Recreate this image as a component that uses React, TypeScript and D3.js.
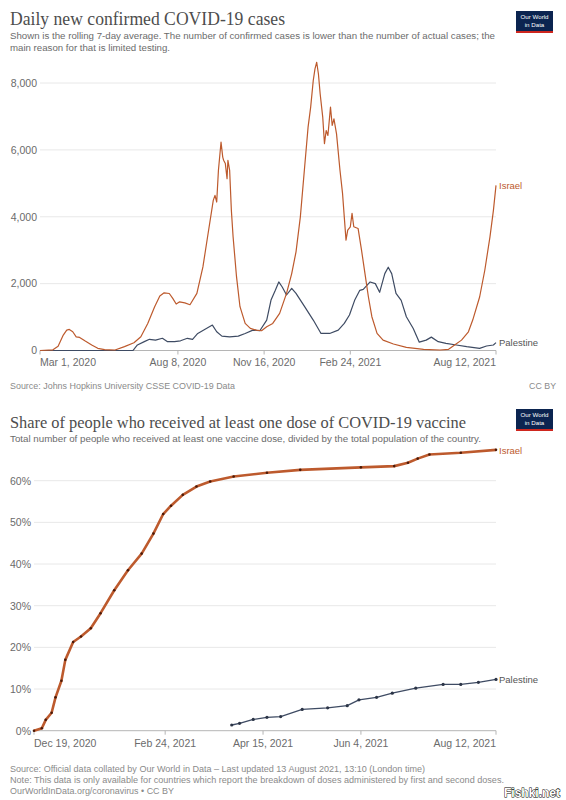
import React from 'react';
import * as d3 from 'd3';

// ---------- Data ----------
const israelCaseDates = ['2020-03-01','2020-03-16','2020-03-22','2020-03-28','2020-04-01','2020-04-04','2020-04-08','2020-04-12','2020-04-16','2020-04-22','2020-04-30','2020-05-07','2020-05-15','2020-05-27','2020-06-07','2020-06-18','2020-06-26','2020-07-04','2020-07-12','2020-07-18','2020-07-23','2020-07-29','2020-08-02','2020-08-06','2020-08-10','2020-08-16','2020-08-22','2020-08-30','2020-09-06','2020-09-12','2020-09-18','2020-09-20','2020-09-22','2020-09-24','2020-09-27','2020-09-29','2020-09-30','2020-10-02','2020-10-04','2020-10-05','2020-10-07','2020-10-09','2020-10-11','2020-10-15','2020-10-19','2020-10-25','2020-10-31','2020-11-07','2020-11-13','2020-11-19','2020-11-26','2020-12-04','2020-12-12','2020-12-18','2020-12-23','2020-12-28','2021-01-02','2021-01-06','2021-01-09','2021-01-12','2021-01-14','2021-01-16','2021-01-18','2021-01-20','2021-01-23','2021-01-25','2021-01-27','2021-01-29','2021-02-01','2021-02-03','2021-02-05','2021-02-08','2021-02-12','2021-02-15','2021-02-17','2021-02-19','2021-02-21','2021-02-24','2021-02-26','2021-02-28','2021-03-05','2021-03-09','2021-03-13','2021-03-17','2021-03-21','2021-03-27','2021-04-03','2021-04-15','2021-04-30','2021-05-20','2021-06-08','2021-06-18','2021-06-25','2021-07-03','2021-07-11','2021-07-16','2021-07-24','2021-07-30','2021-08-05','2021-08-09','2021-08-12'];
const israelCaseValues = [0,20,130,460,610,630,560,410,390,290,165,65,25,15,115,230,410,810,1310,1630,1725,1705,1560,1390,1455,1425,1370,1710,2500,3500,4490,4640,4440,5390,6230,5785,5690,5590,5140,5690,5390,4190,3400,2200,1310,810,660,610,590,710,810,1110,1710,2300,2950,3990,5490,6680,7280,8075,8420,8620,8270,7680,6980,6185,6580,6430,7280,6730,6930,6480,5390,4690,3990,3300,3600,3700,4100,3700,3650,3000,2300,1600,1010,510,310,195,95,35,15,35,165,310,560,910,1600,2400,3400,4190,4940];

const palestineCaseDates = ['2020-03-01','2020-06-17','2020-06-22','2020-06-30','2020-07-06','2020-07-13','2020-07-21','2020-07-27','2020-08-04','2020-08-11','2020-08-19','2020-08-25','2020-08-31','2020-09-10','2020-09-17','2020-09-22','2020-09-28','2020-10-07','2020-10-17','2020-10-25','2020-11-03','2020-11-11','2020-11-19','2020-11-24','2020-11-29','2020-12-03','2020-12-07','2020-12-12','2020-12-18','2020-12-23','2021-01-02','2021-01-12','2021-01-21','2021-01-31','2021-02-10','2021-02-17','2021-02-23','2021-03-01','2021-03-07','2021-03-11','2021-03-19','2021-03-25','2021-03-30','2021-04-05','2021-04-09','2021-04-13','2021-04-18','2021-04-24','2021-04-30','2021-05-08','2021-05-15','2021-05-23','2021-05-29','2021-06-06','2021-06-15','2021-06-27','2021-07-09','2021-07-24','2021-08-01','2021-08-09','2021-08-12'];
const palestineCaseValues = [0,5,165,265,335,310,365,265,265,290,365,335,510,660,760,560,430,410,430,510,610,590,910,1510,1800,2050,1900,1660,1860,1710,1310,910,510,510,610,810,1060,1500,1800,1830,2050,2000,1740,2300,2490,2300,1710,1500,1010,660,250,310,400,265,215,165,115,65,135,165,235];

const israelVaxDates = ['2020-12-19','2020-12-23','2020-12-25','2020-12-28','2020-12-30','2021-01-02','2021-01-04','2021-01-08','2021-01-12','2021-01-17','2021-01-22','2021-01-29','2021-02-05','2021-02-12','2021-02-18','2021-02-23','2021-02-27','2021-03-05','2021-03-12','2021-03-19','2021-03-31','2021-04-17','2021-05-04','2021-06-04','2021-06-21','2021-06-28','2021-07-03','2021-07-09','2021-07-25','2021-08-12'];
const israelVaxValues = [0,0.6,2.6,4.3,8,12,17,21.3,22.6,24.6,28.2,33.7,38.5,42.5,47.3,52,54,56.6,58.6,59.8,61,61.9,62.6,63.2,63.5,64.3,65.3,66.3,66.7,67.4];

const palestineVaxDates = ['2021-03-30','2021-04-03','2021-04-10','2021-04-17','2021-04-24','2021-05-05','2021-05-18','2021-05-28','2021-06-03','2021-06-12','2021-06-20','2021-07-02','2021-07-16','2021-07-25','2021-08-03','2021-08-12'];
const palestineVaxValues = [1.37,1.76,2.7,3.2,3.4,5.1,5.5,6.0,7.4,8.0,9.0,10.2,11.1,11.1,11.6,12.3];

const casesYTicks = [0, 2000, 4000, 6000, 8000];
const casesXTicks = ['2020-03-01','2020-08-08','2020-11-16','2021-02-24','2021-08-12'];
const vaxYTicks = [0, 10, 20, 30, 40, 50, 60];
const vaxXTicks = ['2020-12-19','2021-02-24','2021-04-15','2021-06-04','2021-08-12'];

const ISRAEL = '#BD5A2D';
const PALESTINE = '#3E4B63';
const SANS = '"Liberation Sans", Arial, sans-serif';
const SERIF = '"Liberation Serif", Georgia, serif';

const parse = d3.utcParse('%Y-%m-%d');
const fmt = d3.utcFormat('%b %-d, %Y');

type Pt = { d: Date; v: number };
const zip = (ds: string[], vs: number[]): Pt[] => ds.map((d, i) => ({ d: parse(d) as Date, v: vs[i] }));

function Logo({ x, y }: { x: number; y: number }) {
  return (
    <g>
      <rect x={x} y={y} width={37} height={22} fill="#0b2450" />
      <rect x={x} y={y + 20} width={37} height={2} fill="#ce261e" />
      <text x={x + 18.5} y={y + 8.2} fill="#fff" fontSize={6.2} textAnchor="middle" fontFamily={SANS}>Our World</text>
      <text x={x + 18.5} y={y + 16.4} fill="#fff" fontSize={6.2} textAnchor="middle" fontFamily={SANS}>in Data</text>
    </g>
  );
}

export default function App() {
  // Top chart
  const x1 = d3.scaleUtc().domain([parse('2020-03-01') as Date, parse('2021-08-12') as Date]).range([40, 496]);
  const y1 = d3.scaleLinear().domain([0, 8000]).range([350.5, 83]);
  const line1 = d3.line<Pt>().x(p => x1(p.d)).y(p => y1(p.v));
  const isC = zip(israelCaseDates, israelCaseValues);
  const paC = zip(palestineCaseDates, palestineCaseValues);

  // Bottom chart
  const x2 = d3.scaleUtc().domain([parse('2020-12-19') as Date, parse('2021-08-12') as Date]).range([34, 496]);
  const y2 = d3.scaleLinear().domain([0, 60]).range([730.7, 480.7]);
  const line2 = d3.line<Pt>().x(p => x2(p.d)).y(p => y2(p.v));
  const isV = zip(israelVaxDates, israelVaxValues);
  const paV = zip(palestineVaxDates, palestineVaxValues);

  const anchorFor = (i: number, n: number) => (i === 0 ? 'start' : i === n - 1 ? 'end' : 'middle');
  const fmtNum = d3.format(',');

  return (
    <svg width={566} height={800} style={{ position: 'absolute', left: 0, top: 0, background: '#fff' }}>
      <rect width={566} height={800} fill="#fff" />
      {/* ---------- Top chart ---------- */}
      <text x={10} y={25} fontFamily={SERIF} fontSize={18.5} fill="#4d4d4d" textLength={275} lengthAdjust="spacingAndGlyphs">Daily new confirmed COVID-19 cases</text>
      <text x={10} y={39} fontFamily={SANS} fontSize={9.2} fill="#6b6b6b" textLength={485} lengthAdjust="spacingAndGlyphs">Shown is the rolling 7-day average. The number of confirmed cases is lower than the number of actual cases; the</text>
      <text x={10} y={51} fontFamily={SANS} fontSize={9.2} fill="#6b6b6b" textLength={160} lengthAdjust="spacingAndGlyphs">main reason for that is limited testing.</text>
      <Logo x={516} y={11} />

      {casesYTicks.map(t => (
        <g key={'cy' + t}>
          {t > 0 && <line x1={40} x2={496} y1={y1(t)} y2={y1(t)} stroke="#e8e8e8" strokeWidth={1} />}
          <text x={37} y={y1(t) + 3.8} textAnchor="end" fontFamily={SANS} fontSize={10.5} fill="#6b6b6b">{fmtNum(t)}</text>
        </g>
      ))}
      <line x1={40} x2={496} y1={350.5} y2={350.5} stroke="#b5b5b5" strokeWidth={1} />
      {casesXTicks.map((t, i) => {
        const d = parse(t) as Date;
        return (
          <g key={'cx' + t}>
            <line x1={x1(d)} x2={x1(d)} y1={350.5} y2={354.5} stroke="#b5b5b5" />
            <text x={x1(d)} y={365.5} textAnchor={anchorFor(i, casesXTicks.length)} fontFamily={SANS} fontSize={10.5} fill="#6b6b6b">{fmt(d)}</text>
          </g>
        );
      })}
      <path d={line1(paC) || ''} fill="none" stroke={PALESTINE} strokeWidth={1.2} strokeLinejoin="round" />
      <path d={line1(isC) || ''} fill="none" stroke={ISRAEL} strokeWidth={1.2} strokeLinejoin="round" />
      <text x={x1(isC[isC.length - 1].d) + 3} y={y1(isC[isC.length - 1].v) + 3.5} fontFamily={SANS} fontSize={9.5} fill={ISRAEL}>Israel</text>
      <text x={x1(paC[paC.length - 1].d) + 3} y={y1(paC[paC.length - 1].v) + 3.5} fontFamily={SANS} fontSize={9.5} fill="#555">Palestine</text>

      <text x={10} y={389} fontFamily={SANS} fontSize={8.8} fill="#8a8a8a" textLength={225} lengthAdjust="spacingAndGlyphs">Source: Johns Hopkins University CSSE COVID-19 Data</text>
      <text x={556} y={389} textAnchor="end" fontFamily={SANS} fontSize={8.8} fill="#8a8a8a">CC BY</text>

      {/* ---------- Bottom chart ---------- */}
      <text x={10} y={428} fontFamily={SERIF} fontSize={16.5} fill="#4d4d4d" textLength={456} lengthAdjust="spacingAndGlyphs">Share of people who received at least one dose of COVID-19 vaccine</text>
      <text x={10} y={441.5} fontFamily={SANS} fontSize={9.2} fill="#6b6b6b" textLength={471} lengthAdjust="spacingAndGlyphs">Total number of people who received at least one vaccine dose, divided by the total population of the country.</text>
      <Logo x={516} y={409} />

      {vaxYTicks.map(t => (
        <g key={'vy' + t}>
          {t > 0 && <line x1={34} x2={496} y1={y2(t)} y2={y2(t)} stroke="#e8e8e8" strokeWidth={1} />}
          <text x={31} y={y2(t) + 3.8} textAnchor="end" fontFamily={SANS} fontSize={10.5} fill="#6b6b6b">{t}%</text>
        </g>
      ))}
      <line x1={34} x2={496} y1={730.7} y2={730.7} stroke="#b5b5b5" strokeWidth={1} />
      {vaxXTicks.map((t, i) => {
        const d = parse(t) as Date;
        return (
          <g key={'vx' + t}>
            <line x1={x2(d)} x2={x2(d)} y1={730.7} y2={734.7} stroke="#b5b5b5" />
            <text x={x2(d)} y={747} textAnchor={anchorFor(i, vaxXTicks.length)} fontFamily={SANS} fontSize={10.5} fill="#6b6b6b">{fmt(d)}</text>
          </g>
        );
      })}
      <path d={line2(paV) || ''} fill="none" stroke={PALESTINE} strokeWidth={1.3} strokeLinejoin="round" />
      {paV.map((p, i) => <circle key={'pv' + i} cx={x2(p.d)} cy={y2(p.v)} r={1.6} fill="#2c3547" />)}
      <path d={line2(isV) || ''} fill="none" stroke={ISRAEL} strokeWidth={2.6} strokeLinejoin="round" />
      {isV.map((p, i) => <circle key={'iv' + i} cx={x2(p.d)} cy={y2(p.v)} r={1.3} fill="#4a1a08" />)}
      <text x={x2(isV[isV.length - 1].d) + 3} y={y2(isV[isV.length - 1].v) + 4} fontFamily={SANS} fontSize={9.5} fill={ISRAEL}>Israel</text>
      <text x={x2(paV[paV.length - 1].d) + 3} y={y2(paV[paV.length - 1].v) + 3.5} fontFamily={SANS} fontSize={9.5} fill="#555">Palestine</text>

      <text x={10} y={771.5} fontFamily={SANS} fontSize={8.8} fill="#8a8a8a" textLength={415} lengthAdjust="spacingAndGlyphs">Source: Official data collated by Our World in Data – Last updated 13 August 2021, 13:10 (London time)</text>
      <text x={10} y={782.5} fontFamily={SANS} fontSize={8.8} fill="#8a8a8a" textLength={494} lengthAdjust="spacingAndGlyphs">Note: This data is only available for countries which report the breakdown of doses administered by first and second doses.</text>
      <text x={10} y={793.5} fontFamily={SANS} fontSize={8.8} fill="#8a8a8a" textLength={164} lengthAdjust="spacingAndGlyphs">OurWorldInData.org/coronavirus • CC BY</text>

      <text x={560} y={797} textAnchor="end" fontFamily={SANS} fontSize={12} fontWeight="bold" fill="#fff" stroke="#000" strokeWidth={0.9} paintOrder="stroke">Fishki.net</text>
    </svg>
  );
}
